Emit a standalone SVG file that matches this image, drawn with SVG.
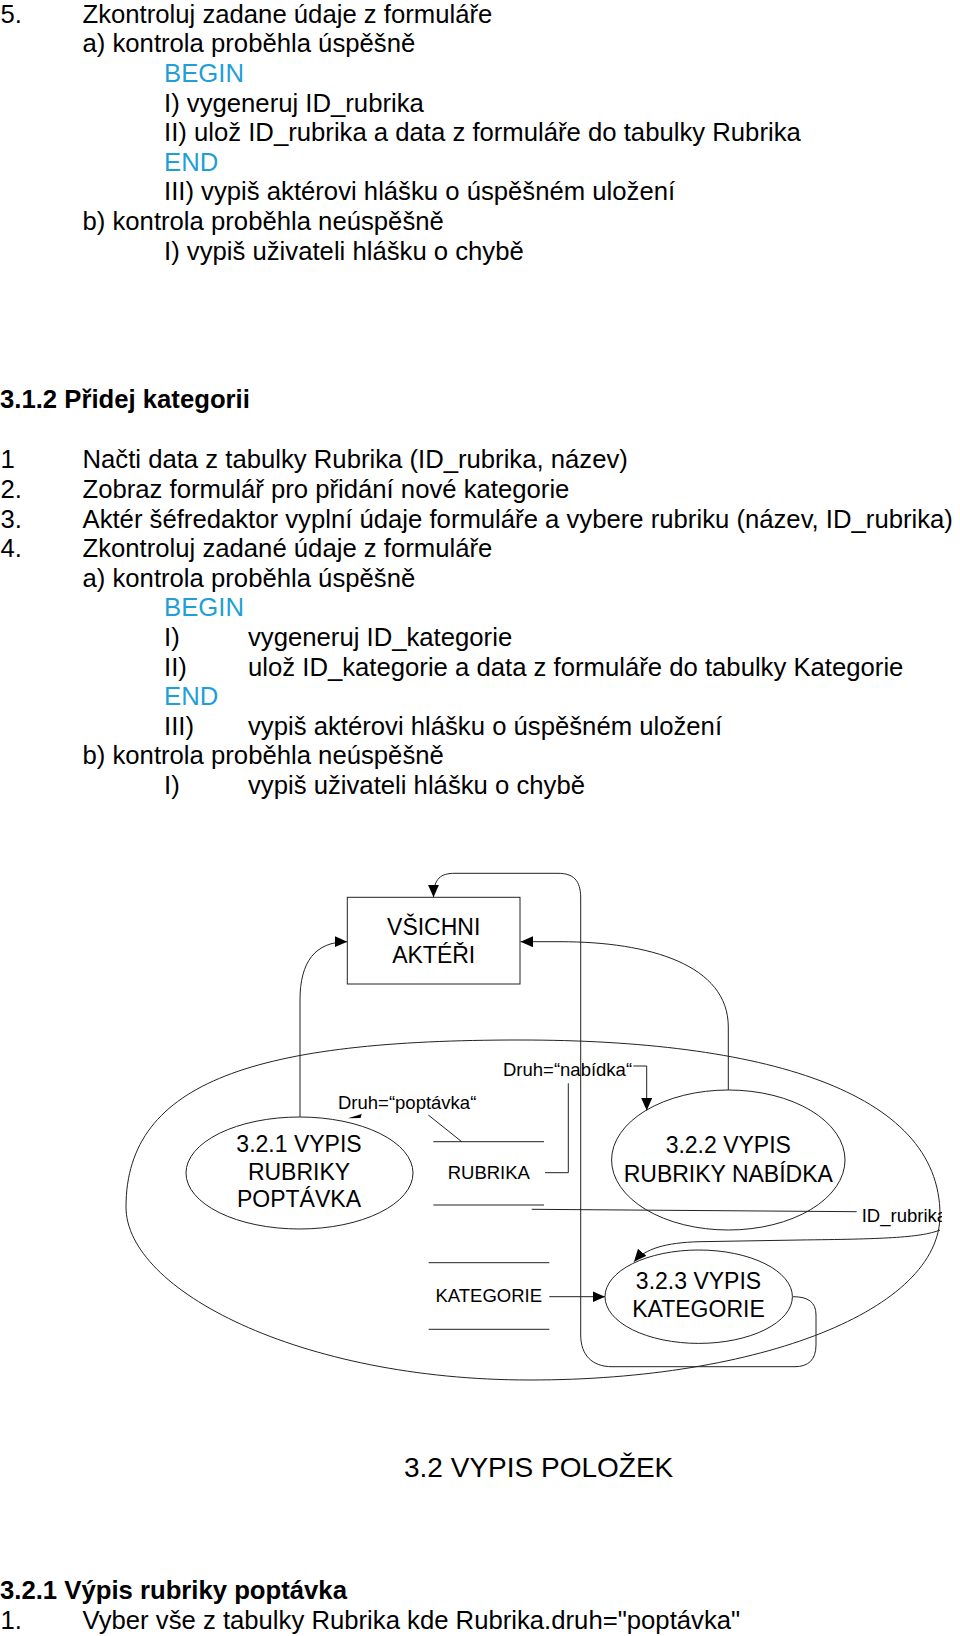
<svg xmlns="http://www.w3.org/2000/svg" width="960" height="1636" viewBox="0 0 960 1636">
<style>
text{font-family:"Liberation Sans",Arial,sans-serif;fill:#000}
.b{font-size:25.7px}
.bb{font-size:25.7px;font-weight:bold}
.blue{fill:#1f9fd8}
.t{font-size:28px}
.n{font-size:23px;text-anchor:middle}
.l{font-size:18.5px}
.lc{font-size:18.5px;text-anchor:middle}
.s{fill:none;stroke:#222;stroke-width:1}
.w{fill:#fff;stroke:#222;stroke-width:1}
</style>
<defs>
<marker id="ah" markerUnits="userSpaceOnUse" markerWidth="14" markerHeight="12" refX="12.5" refY="5.5" orient="auto">
<path d="M0,0 L12.5,5.5 L0,11 Z" fill="#000"/>
</marker>
<clipPath id="clipId"><rect x="840" y="1195" width="102" height="40"/></clipPath>
</defs>
<rect width="960" height="1636" fill="#fff"/>

<g id="text-top">
<text class="b" x="0.5" y="22.7">5.</text>
<text class="b" x="82.5" y="22.7">Zkontroluj zadane údaje z formuláře</text>
<text class="b" x="82.5" y="52.3">a) kontrola proběhla úspěšně</text>
<text class="b blue" x="164" y="81.9">BEGIN</text>
<text class="b" x="164" y="111.5">I) vygeneruj ID_rubrika</text>
<text class="b" x="164" y="141.1">II) ulož ID_rubrika a data z formuláře do tabulky Rubrika</text>
<text class="b blue" x="164" y="170.7">END</text>
<text class="b" x="164" y="200.3">III) vypiš aktérovi hlášku o úspěšném uložení</text>
<text class="b" x="82.5" y="229.9">b) kontrola proběhla neúspěšně</text>
<text class="b" x="164" y="259.5">I) vypiš uživateli hlášku o chybě</text>
</g>

<g id="text-312">
<text class="bb" x="0" y="408.3">3.1.2 Přidej kategorii</text>
<text class="b" x="0.5" y="468.3">1</text>
<text class="b" x="82.5" y="468.3">Načti data z tabulky Rubrika (ID_rubrika, název)</text>
<text class="b" x="0.5" y="497.9">2.</text>
<text class="b" x="82.5" y="497.9">Zobraz formulář pro přidání nové kategorie</text>
<text class="b" x="0.5" y="527.5">3.</text>
<text class="b" x="82.5" y="527.5">Aktér šéfredaktor vyplní údaje formuláře a vybere rubriku (název, ID_rubrika)</text>
<text class="b" x="0.5" y="557.1">4.</text>
<text class="b" x="82.5" y="557.1">Zkontroluj zadané údaje z formuláře</text>
<text class="b" x="82.5" y="586.7">a) kontrola proběhla úspěšně</text>
<text class="b blue" x="164" y="616.3">BEGIN</text>
<text class="b" x="164" y="645.9">I)</text>
<text class="b" x="248" y="645.9">vygeneruj ID_kategorie</text>
<text class="b" x="164" y="675.5">II)</text>
<text class="b" x="248" y="675.5">ulož ID_kategorie a data z formuláře do tabulky Kategorie</text>
<text class="b blue" x="164" y="705.1">END</text>
<text class="b" x="164" y="734.7">III)</text>
<text class="b" x="248" y="734.7">vypiš aktérovi hlášku o úspěšném uložení</text>
<text class="b" x="82.5" y="764.3">b) kontrola proběhla neúspěšně</text>
<text class="b" x="164" y="793.9">I)</text>
<text class="b" x="248" y="793.9">vypiš uživateli hlášku o chybě</text>
</g>

<g id="boundary">
<path class="s" d="M126,1207 C126,1080 260,1040 520,1040 C760,1040 940,1090 940,1215 C940,1310 760,1380 530,1380 C300,1380 126,1290 126,1207 Z"/>
</g>

<g id="connectors">
<path class="s" d="M793,1296.7 C808,1296.7 816,1302 816,1315 L816,1345 C816,1360 808,1366.7 795,1366.7 L612,1366.7 C592,1366.7 580.7,1355 580.7,1335 L580.7,898 C580.7,880 573,873.3 558,873.3 L455,873.3 C441,873.3 433.5,878 433.5,897.3" marker-end="url(#ah)"/>
<path class="s" d="M300,1117 L300,1000 C300,962 315,941.7 347.3,941.7" marker-end="url(#ah)"/>
<path class="s" d="M728.3,1090 L728.3,1027 C728.3,965 650,941.7 560,941.7 L520.5,941.7" marker-end="url(#ah)"/>
<path class="s" d="M545,1172.7 L568.3,1172.7 L568.3,1083.3"/>
<path class="s" d="M633.3,1066 L646.7,1066 L646.7,1110.5" marker-end="url(#ah)"/>
<path class="s" d="M461.7,1141.7 L428.3,1115"/>
<polygon points="348,1118.3 361.7,1114 360.5,1118" fill="#000"/>
<path class="s" d="M531.7,1209.3 L856.7,1211.7"/>
<path class="s" d="M940,1230 C920,1238 880,1239 800,1240 L700,1241.7 C665,1242.5 645,1249 634,1261.7" marker-end="url(#ah)"/>
<path class="s" d="M549.3,1296.7 L605,1296.7" marker-end="url(#ah)"/>
<text class="l" x="338" y="1109.3">Druh=“poptávka“</text>
<text class="l" x="503" y="1076">Druh=“nabídka“</text>
<text class="l" x="861.7" y="1221.7" clip-path="url(#clipId)">ID_rubrika</text>
</g>

<g id="actors">
<rect class="w" x="347.3" y="897.3" width="172.7" height="86.7"/>
<text class="n" x="433.7" y="935">VŠICHNI</text>
<text class="n" x="433.7" y="962.7">AKTÉŘI</text>
</g>

<g id="p321">
<ellipse class="s" cx="299.5" cy="1173" rx="113.5" ry="56"/>
<text class="n" x="299" y="1151.7">3.2.1 VYPIS</text>
<text class="n" x="299" y="1180">RUBRIKY</text>
<text class="n" x="299" y="1207">POPTÁVKA</text>
</g>

<g id="p322">
<ellipse class="s" cx="728.3" cy="1160" rx="116.7" ry="70"/>
<text class="n" x="728.3" y="1153.3">3.2.2 VYPIS</text>
<text class="n" x="728.3" y="1181.7">RUBRIKY NABÍDKA</text>
</g>

<g id="p323">
<ellipse class="s" cx="698.7" cy="1296.7" rx="93.7" ry="46.7"/>
<text class="n" x="698.5" y="1289">3.2.3 VYPIS</text>
<text class="n" x="698.5" y="1316.7">KATEGORIE</text>
</g>

<g id="store-rubrika">
<line class="s" x1="433.3" y1="1141.7" x2="544" y2="1141.7"/>
<line class="s" x1="433.3" y1="1205" x2="544" y2="1205"/>
<text class="lc" x="488.8" y="1179.3">RUBRIKA</text>
</g>

<g id="store-kategorie">
<line class="s" x1="428.7" y1="1262.7" x2="549.3" y2="1262.7"/>
<line class="s" x1="428.7" y1="1329.3" x2="549.3" y2="1329.3"/>
<text class="lc" x="488.8" y="1301.7">KATEGORIE</text>
</g>

<g id="text-bottom">
<text class="t" x="404" y="1477.3">3.2 VYPIS POLOŽEK</text>
<text class="bb" x="0" y="1599">3.2.1 Výpis rubriky poptávka</text>
<text class="b" x="0.5" y="1628.5">1.</text>
<text class="b" x="82.5" y="1628.5">Vyber vše z tabulky Rubrika kde Rubrika.druh="poptávka"</text>
</g>
</svg>
